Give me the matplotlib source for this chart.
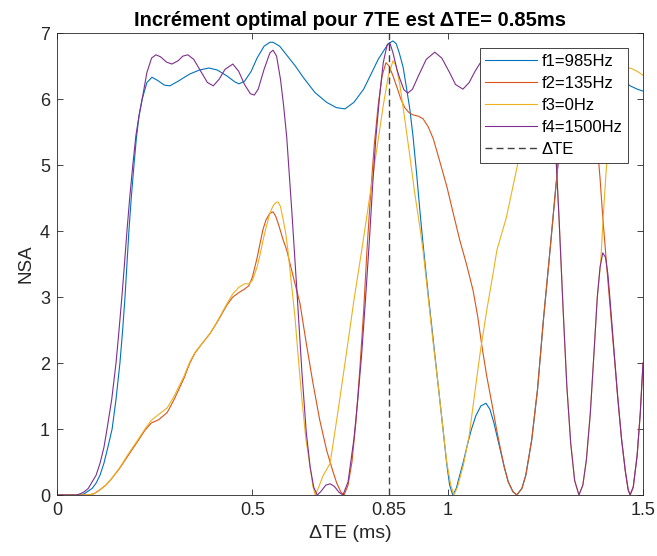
import matplotlib
matplotlib.use("Agg")
import matplotlib.pyplot as plt

plt.rcParams['font.family'] = ['Liberation Sans', 'DejaVu Sans']

# f1 = 985 Hz
te_f1 = [0, 0.06, 0.07, 0.09, 0.1, 0.11, 0.12, 0.13, 0.141, 0.151, 0.161, 0.168, 0.174, 0.179, 0.184,
         0.19, 0.197, 0.203, 0.21, 0.218,
         0.23, 0.243, 0.258, 0.275, 0.289, 0.31, 0.34, 0.365, 0.389, 0.41, 0.435, 0.455, 0.466,
         0.48, 0.497, 0.512, 0.53, 0.545, 0.553, 0.57, 0.59, 0.61, 0.63, 0.66, 0.69, 0.715, 0.737,
         0.76, 0.785, 0.809, 0.822, 0.835, 0.848, 0.86, 0.868, 0.876, 0.886, 0.895, 0.903, 0.911,
         0.92, 0.929, 0.937, 0.95, 0.963, 0.975, 0.988, 0.998, 1.005, 1.013, 1.022, 1.03, 1.04,
         1.05, 1.06, 1.072, 1.085, 1.098, 1.108, 1.118, 1.126, 1.134, 1.145, 1.155, 1.167, 1.177,
         1.19, 1.2, 1.215, 1.23, 1.245, 1.262, 1.275, 1.287, 1.3, 1.315, 1.335, 1.36, 1.385, 1.41,
         1.44, 1.467, 1.485, 1.5]
nsa_f1 = [0, 0, 0.02, 0.1, 0.18, 0.3, 0.48, 0.72, 1.0, 1.45, 2.0, 2.5, 3.0, 3.5, 4.0,
          4.5, 5.0, 5.4, 5.75, 6.0,
          6.25, 6.33, 6.28, 6.21, 6.2, 6.27, 6.38, 6.44, 6.47, 6.44, 6.35, 6.26, 6.23,
          6.27, 6.42, 6.62, 6.8, 6.86, 6.86, 6.8, 6.65, 6.5, 6.33, 6.1, 5.95, 5.87, 5.85,
          5.95, 6.15, 6.44, 6.6, 6.72, 6.84, 6.88, 6.84, 6.7, 6.48, 6.15, 5.85, 5.45,
          4.9, 4.3, 3.8, 3.05, 2.35, 1.7, 1.0, 0.45, 0.15, 0.0, 0.1, 0.28, 0.5,
          0.75, 0.98, 1.2, 1.35, 1.39, 1.3, 1.1, 0.9, 0.7, 0.42, 0.2, 0.05, 0.0,
          0.1, 0.3, 0.83, 1.6, 2.65, 3.71, 4.55, 5.3, 5.85, 6.25, 6.5, 6.62, 6.6, 6.48,
          6.32, 6.2, 6.15, 6.12]

# f2 = 135 Hz
te_f2 = [0, 0.08, 0.095, 0.11, 0.125, 0.14, 0.161, 0.18, 0.205, 0.225, 0.241, 0.26, 0.282, 0.3,
         0.325, 0.34, 0.353, 0.372, 0.392, 0.41, 0.435, 0.45, 0.466, 0.48, 0.491, 0.5, 0.512,
         0.52, 0.527, 0.535, 0.545, 0.553, 0.56, 0.568, 0.578, 0.588, 0.605, 0.622, 0.638, 0.655,
         0.672, 0.69, 0.705,
         0.716, 0.727, 0.735, 0.745, 0.755, 0.765, 0.775, 0.785, 0.793, 0.802, 0.812, 0.822,
         0.832, 0.842, 0.85, 0.86, 0.87, 0.88, 0.89, 0.9, 0.911, 0.925, 0.937, 0.95, 0.963, 0.98,
         0.998, 1.015, 1.031, 1.048, 1.065, 1.077, 1.088, 1.1, 1.113, 1.125, 1.134, 1.145, 1.155,
         1.167, 1.177, 1.19, 1.2, 1.215, 1.23, 1.245, 1.262, 1.275, 1.287, 1.3, 1.315, 1.33,
         1.345, 1.36, 1.372, 1.382, 1.39, 1.397, 1.408, 1.42, 1.425, 1.435, 1.445, 1.455, 1.462,
         1.467, 1.475, 1.485, 1.493, 1.5]
nsa_f2 = [0, 0, 0.02, 0.08, 0.15, 0.25, 0.41, 0.58, 0.8, 0.98, 1.09, 1.14, 1.25, 1.45,
          1.77, 2.0, 2.15, 2.3, 2.45, 2.62, 2.88, 3.0, 3.07, 3.12, 3.17, 3.3, 3.59,
          3.82, 4.02, 4.17, 4.27, 4.29, 4.22, 4.08, 3.88, 3.71, 3.3, 2.9, 2.3, 1.7,
          1.15, 0.68, 0.38,
          0.18, 0.04, 0.0, 0.15, 0.5, 1.1, 1.9, 2.8, 3.67, 4.5, 5.3, 5.9,
          6.35, 6.55, 6.5, 6.35, 6.18, 6.0, 5.87, 5.8, 5.76, 5.74, 5.7, 5.58, 5.4, 5.05,
          4.67, 4.25, 3.86, 3.5, 3.1, 2.7, 2.24, 1.8, 1.39, 1.0, 0.73, 0.42, 0.2,
          0.05, 0.0, 0.1, 0.3, 0.83, 1.6, 2.65, 3.71, 4.55, 5.3, 5.9, 6.3, 6.5,
          6.45, 6.2, 5.85, 5.38, 4.8, 4.21, 3.4, 2.55, 2.2, 1.5, 0.85, 0.35, 0.08,
          0.0, 0.12, 0.6, 1.24, 2.0]

# f3 = 0 Hz
te_f3 = [0, 0.08, 0.095, 0.11, 0.125, 0.14, 0.161, 0.18, 0.205, 0.225, 0.241, 0.26, 0.282, 0.3,
         0.325, 0.34, 0.353, 0.372, 0.392, 0.41, 0.435, 0.45, 0.466, 0.48, 0.491, 0.5, 0.512,
         0.52, 0.527, 0.535, 0.545, 0.553, 0.56, 0.566, 0.572, 0.578, 0.585, 0.591, 0.6, 0.609,
         0.618, 0.627, 0.637, 0.648,
         0.655, 0.661, 0.67, 0.68, 0.699, 0.72, 0.742, 0.76, 0.78, 0.8, 0.82, 0.835, 0.848, 0.86,
         0.868, 0.878, 0.89, 0.904, 0.915, 0.929, 0.937, 0.95, 0.963, 0.975, 0.988, 0.998, 1.008,
         1.016, 1.025, 1.04, 1.055, 1.065, 1.083, 1.1, 1.116, 1.126, 1.15, 1.177, 1.19, 1.205,
         1.22, 1.235, 1.25, 1.262, 1.275, 1.285, 1.296, 1.305, 1.315, 1.325, 1.336, 1.346, 1.355,
         1.365, 1.375, 1.383, 1.392, 1.398, 1.405, 1.411, 1.42, 1.43, 1.445, 1.467, 1.485, 1.5]
nsa_f3 = [0, 0, 0.02, 0.08, 0.15, 0.25, 0.42, 0.6, 0.82, 1.0, 1.13, 1.22, 1.32, 1.5,
          1.8, 2.02, 2.16, 2.3, 2.45, 2.63, 2.9, 3.05, 3.15, 3.2, 3.2, 3.25, 3.45,
          3.65, 3.85, 4.05, 4.27, 4.38, 4.43, 4.44, 4.37, 4.2, 3.98, 3.71, 3.2, 2.7,
          2.05, 1.44, 0.85, 0.42,
          0.13, 0.0, 0.12, 0.28, 0.48, 1.3, 2.2, 2.95, 3.71, 4.5, 5.3, 5.9, 6.35, 6.58,
          6.5, 6.2, 5.7, 5.1, 4.6, 4.05, 3.7, 3.0, 2.3, 1.7, 1.0, 0.48, 0.15,
          0.0, 0.12, 0.45, 0.9, 1.35, 2.15, 2.8, 3.35, 3.71, 4.2, 4.95, 5.4, 5.95,
          6.35, 6.5, 6.3, 5.9, 5.38, 4.2, 2.75, 1.65, 0.78, 0.22, 0.0, 0.15, 0.53,
          1.23, 2.2, 3.0, 3.55, 4.21, 4.85, 5.38, 5.9, 6.25, 6.42, 6.47, 6.42, 6.36]

# f4 = 1500 Hz
te_f4 = [0, 0.05, 0.06, 0.07, 0.08, 0.09, 0.1, 0.11, 0.12, 0.128, 0.14, 0.151, 0.158, 0.166, 0.172,
         0.179, 0.186, 0.194, 0.202, 0.21, 0.218,
         0.23, 0.242, 0.253, 0.265, 0.28, 0.294, 0.31, 0.322, 0.335, 0.35, 0.37, 0.385, 0.4,
         0.415, 0.43, 0.45, 0.465, 0.48, 0.495, 0.505, 0.515, 0.53, 0.545, 0.553, 0.562, 0.572,
         0.58, 0.588, 0.601, 0.614, 0.627, 0.638, 0.648, 0.657, 0.666, 0.675, 0.688, 0.699, 0.71,
         0.722, 0.732, 0.745, 0.76, 0.77, 0.78, 0.79, 0.8, 0.808, 0.816, 0.825, 0.835, 0.845,
         0.852, 0.86, 0.87, 0.878, 0.888, 0.898, 0.91, 0.925, 0.945, 0.967, 0.985, 1.005, 1.02,
         1.039, 1.055, 1.07, 1.088, 1.11, 1.14, 1.17, 1.2, 1.23, 1.25, 1.262, 1.275, 1.285, 1.296,
         1.305, 1.315, 1.325, 1.336, 1.346, 1.355, 1.365, 1.375, 1.383, 1.39, 1.397, 1.404, 1.41,
         1.415, 1.425, 1.435, 1.445, 1.455, 1.462, 1.467, 1.475, 1.485, 1.493, 1.5]
nsa_f4 = [0, 0, 0.02, 0.05, 0.1, 0.2, 0.3, 0.48, 0.72, 1.0, 1.45, 2.0, 2.45, 3.0, 3.45,
          4.0, 4.5, 5.0, 5.45, 5.75, 6.0,
          6.4, 6.62, 6.67, 6.64, 6.56, 6.53, 6.58, 6.65, 6.67, 6.6, 6.4, 6.25, 6.2,
          6.3, 6.45, 6.53, 6.42, 6.22, 6.08, 6.06, 6.15, 6.45, 6.7, 6.74, 6.65, 6.3,
          5.9, 5.42, 4.3, 3.1, 1.85, 0.95, 0.42, 0.12, 0.0, 0.05, 0.15, 0.17, 0.13,
          0.04, 0.0, 0.2, 0.85, 1.45, 2.15, 3.0, 3.9, 4.7, 5.4, 6.0, 6.55, 6.82,
          6.85, 6.7, 6.45, 6.3, 6.14, 6.09, 6.15, 6.35, 6.6, 6.71, 6.62, 6.4, 6.22,
          6.15, 6.25, 6.42, 6.59, 6.68, 6.62, 6.45, 6.4, 6.35, 6.05, 5.8, 5.38, 4.2, 2.75,
          1.65, 0.78, 0.22, 0.0, 0.15, 0.53, 1.23, 2.2, 3.0, 3.45, 3.67, 3.6, 3.35,
          3.0, 2.25, 1.5, 0.85, 0.35, 0.08, 0.0, 0.12, 0.6, 1.24, 2.0]

labels = ['f1=985Hz', 'f2=135Hz', 'f3=0Hz', 'f4=1500Hz']
colors = ['#0072BD', '#D95319', '#EDB120', '#7E2F8E']
dte_opt = 0.85

fig = plt.figure(figsize=(6.57, 5.56), dpi=100)
ax = fig.add_axes([0.0868, 0.1097, 0.8919, 0.8309])

series = [(te_f1, nsa_f1), (te_f2, nsa_f2), (te_f3, nsa_f3), (te_f4, nsa_f4)]
for (x, y), lab, c in zip(series, labels, colors):
    ax.plot(x, y, color=c, linewidth=0.8, label=lab)
ax.axvline(dte_opt, color='0.25', linestyle=(0, (5, 3)), linewidth=1.0, label='\u0394TE')

ax.set_xlim(0, 1.5)
ax.set_ylim(0, 7)
ax.set_xticks([0, 0.5, 0.85, 1, 1.5])
ax.set_xticklabels(['0', '0.5', '0.85', '1', '1.5'])
ax.set_yticks(range(8))
ax.tick_params(direction='in', top=True, right=True, length=4, width=0.6,
               labelsize=13, colors='#262626', pad=5)
for s in ax.spines.values():
    s.set_color('#262626')
    s.set_linewidth(0.6)

ax.set_title('Incrément optimal pour 7TE est \u0394TE= 0.85ms', fontsize=14.5, fontweight='bold', pad=5)
ax.set_xlabel('\u0394TE (ms)', fontsize=14, color='#262626')
ax.set_ylabel('NSA', fontsize=13.5, color='#262626')

leg = ax.legend(loc='upper right', fontsize=12, fancybox=False, framealpha=1,
                edgecolor='#262626', handlelength=3.1, handletextpad=0.25,
                labelspacing=0.42, borderaxespad=0.9, borderpad=0.35)
leg.get_frame().set_linewidth(0.6)

fig.savefig('out.png', dpi=100)
